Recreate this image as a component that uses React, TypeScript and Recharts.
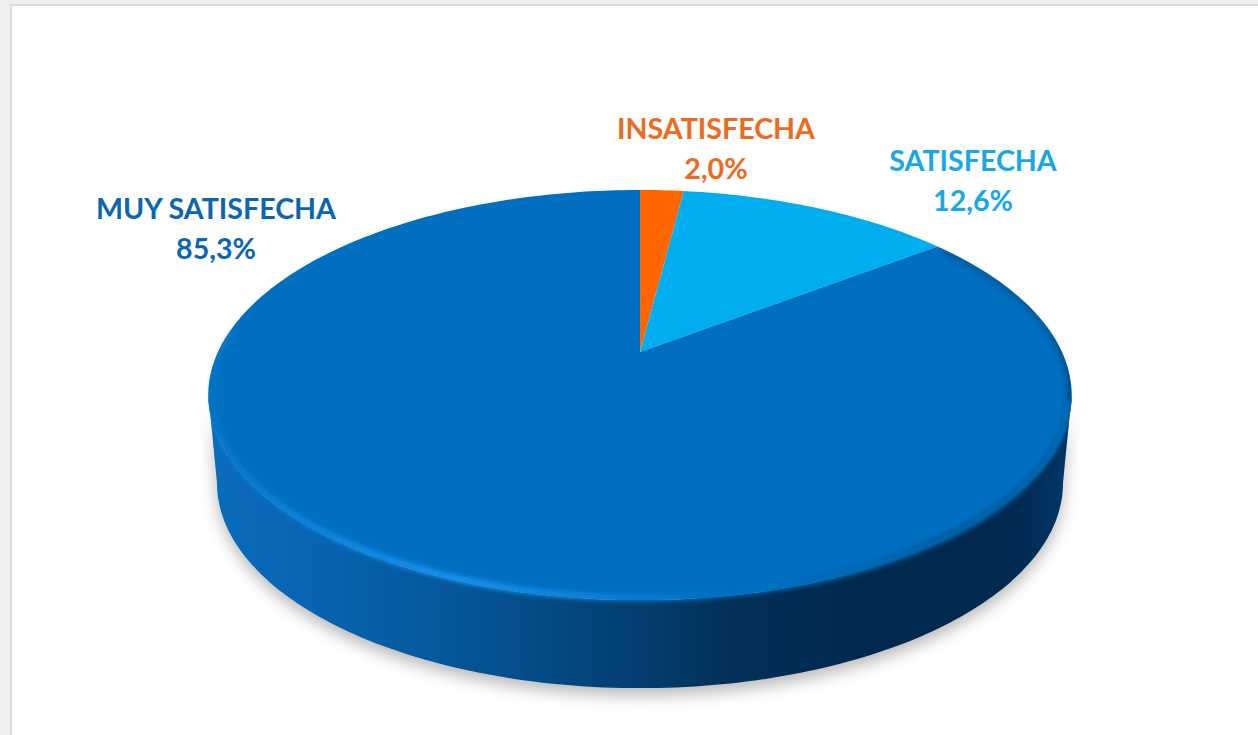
import { Pie, PieChart } from "recharts";

const categories = ["INSATISFECHA", "SATISFECHA", "MUY SATISFECHA"];
const percentages = [2.0, 12.6, 85.3];
const sliceColors = ["#ff6600", "#00aeef", "#006fc0"];
const labelColors = ["#ee6a1c", "#18a8e4", "#0b66b0"];

const data = categories.map((name, i) => ({ name, value: percentages[i], fill: sliceColors[i] }));

// where each two line label sits: centre x and first baseline
const labelSpots = [
  { x: 716, y: 139 },
  { x: 973, y: 171 },
  { x: 216, y: 219 },
];

const WIDTH = 1258;
const HEIGHT = 735;

// the disc is seen in perspective, so the apex is above the middle of the ellipse
const PERSPECTIVE = 0.21;
const FLATTEN = 0.4645;
const DEPTH = 88;
const BASE_SHRINK = 0.98;
// angles where the silhouette of the disc starts and ends at the front
const FRONT_FROM = -12.1;
const FRONT_TO = -167.9;

const project = (deg: number, cx: number, cy: number, r: number) => {
  const t = (deg * Math.PI) / 180;
  const d = 1 + PERSPECTIVE * Math.sin(t);
  return { x: cx + (r * Math.cos(t)) / d, y: cy - (r * FLATTEN * Math.sin(t)) / d };
};

const arcPoints = (from: number, to: number, cx: number, cy: number, r: number) => {
  const steps = Math.max(2, Math.ceil(Math.abs(from - to)));
  const pts = [];
  for (let i = 0; i <= steps; i++) pts.push(project(from + ((to - from) * i) / steps, cx, cy, r));
  return pts;
};

const toPath = (pts: { x: number; y: number }[]) =>
  pts.map((p, i) => `${i ? "L" : "M"}${p.x.toFixed(1)} ${p.y.toFixed(1)}`).join(" ");

function DiscSlice(props: any) {
  const { cx, cy, outerRadius, startAngle, endAngle, fill } = props;
  const hi = Math.max(startAngle, endAngle);
  const lo = Math.min(startAngle, endAngle);
  const face = `M${cx} ${cy} ${toPath(arcPoints(startAngle, endAngle, cx, cy, outerRadius)).replace("M", "L")} Z`;

  const hasFront = hi >= FRONT_FROM && lo <= FRONT_TO;
  if (!hasFront) return <path d={face} fill={fill} />;

  const top = arcPoints(FRONT_FROM, FRONT_TO, cx, cy, outerRadius);
  const base = top.map((p) => ({ x: cx + (p.x - cx) * BASE_SHRINK, y: p.y + DEPTH }));
  const wall = `${toPath(top)} ${toPath([...base].reverse()).replace("M", "L")} Z`;
  const shadow = `${toPath(top)} ${toPath([...base].reverse().map((p) => ({ x: p.x, y: p.y + 7 }))).replace("M", "L")} Z`;
  const rim = toPath(arcPoints(-14, -186, cx, cy - 1, outerRadius - 2));
  const shade = toPath(arcPoints(36, -80, cx, cy, outerRadius));

  return (
    <g>
      <defs>
        <linearGradient id="wallFill" gradientUnits="userSpaceOnUse" x1={208} x2={1072} y1={0} y2={0}>
          <stop offset="0" stopColor="#0a6cbc" />
          <stop offset="0.12" stopColor="#0864b2" />
          <stop offset="0.28" stopColor="#055799" />
          <stop offset="0.41" stopColor="#04487f" />
          <stop offset="0.5" stopColor="#033e70" />
          <stop offset="0.6" stopColor="#023058" />
          <stop offset="0.75" stopColor="#012a4f" />
          <stop offset="0.93" stopColor="#01294f" />
          <stop offset="1" stopColor="#01386b" />
        </linearGradient>
        <linearGradient id="rimStroke" gradientUnits="userSpaceOnUse" x1={208} x2={1072} y1={0} y2={0}>
          <stop offset="0" stopColor="#0676c8" />
          <stop offset="0.1" stopColor="#0c84de" />
          <stop offset="0.2" stopColor="#1990ee" />
          <stop offset="0.3" stopColor="#1e98f8" />
          <stop offset="0.45" stopColor="#1282dc" />
          <stop offset="0.6" stopColor="#006fc0" />
          <stop offset="1" stopColor="#006fc0" />
        </linearGradient>
        <linearGradient id="shadeStroke" gradientUnits="userSpaceOnUse" x1={800} y1={620} x2={1072} y2={280}>
          <stop offset="0" stopColor="#012a4f" stopOpacity={0} />
          <stop offset="0.35" stopColor="#012a4f" stopOpacity={1} />
          <stop offset="0.6" stopColor="#012a4f" stopOpacity={0.85} />
          <stop offset="1" stopColor="#012a4f" stopOpacity={0} />
        </linearGradient>
        <clipPath id="discClip">
          <path d={face} />
          <path d={wall} />
        </clipPath>
        <filter id="softShadow" x="-10%" y="-20%" width="120%" height="150%">
          <feGaussianBlur stdDeviation="8" />
        </filter>
        <filter id="softRim" x="-5%" y="-10%" width="110%" height="120%">
          <feGaussianBlur stdDeviation="2.5" />
        </filter>
      </defs>
      <path d={shadow} fill="#000" opacity={0.28} filter="url(#softShadow)" />
      <path d={wall} fill="url(#wallFill)" />
      <path d={face} fill={fill} />
      <g clipPath="url(#discClip)">
        <path d={shade} fill="none" stroke="url(#shadeStroke)" strokeWidth={10} filter="url(#softRim)" />
        <path d={rim} fill="none" stroke="url(#rimStroke)" strokeWidth={6} filter="url(#softRim)" />
      </g>
    </g>
  );
}

function SliceLabel(props: any) {
  const { index, value } = props;
  const spot = labelSpots[index];
  return (
    <text
      textAnchor="middle"
      fontFamily="Lato, sans-serif"
      fontWeight={700}
      fontSize={28.6}
      fill={labelColors[index]}
    >
      <tspan x={spot.x} y={spot.y}>
        {categories[index]}
      </tspan>
      <tspan x={spot.x} y={spot.y + 40}>
        {`${Number(value).toFixed(1).replace(".", ",")}%`}
      </tspan>
    </text>
  );
}

export default function App() {
  return (
    <div
      style={{
        position: "absolute",
        left: 0,
        top: 0,
        width: WIDTH,
        height: HEIGHT,
        background: "#f0f0f0",
        overflow: "hidden",
      }}
    >
      <div
        style={{
          position: "absolute",
          left: 10,
          top: 4,
          right: 0,
          bottom: 0,
          background: "#fff",
          borderLeft: "2px solid #dcdcdc",
          borderTop: "2px solid #dcdcdc",
        }}
      />
      <div style={{ position: "absolute", left: 0, top: 0 }}>
        <PieChart width={WIDTH} height={HEIGHT} margin={{ top: 0, right: 0, bottom: 0, left: 0 }}>
          <Pie
            data={data}
            dataKey="value"
            nameKey="name"
            cx={640}
            cy={352}
            outerRadius={422}
            startAngle={90}
            endAngle={-270}
            stroke="none"
            shape={DiscSlice}
            label={SliceLabel}
            labelLine={false}
            isAnimationActive={false}
          />
        </PieChart>
      </div>
    </div>
  );
}
